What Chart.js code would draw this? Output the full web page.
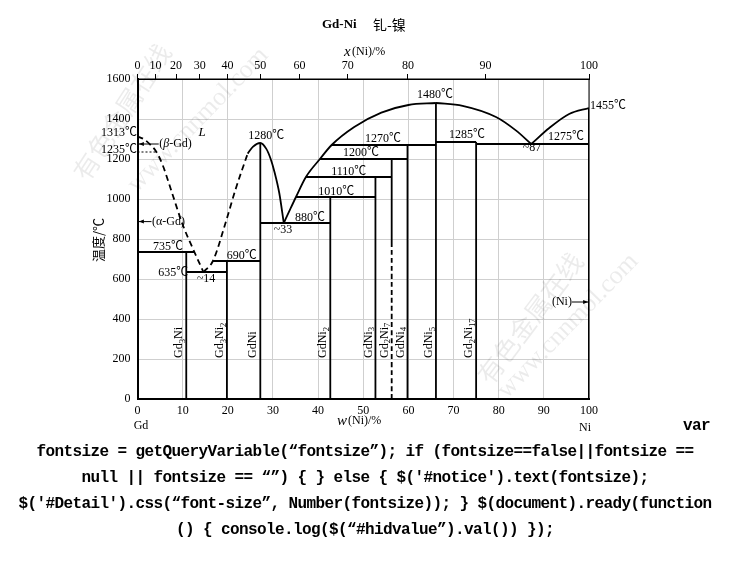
<!DOCTYPE html>
<html lang="zh">
<head>
<meta charset="UTF-8">
<title>Gd-Ni 钆-镍</title>
<script src="https://cdn.jsdelivr.net/npm/chart.js"></script>
<style>
    body { margin: 0; background: #fff; }
    #page { position: relative; width: 730px; height: 579px; overflow: hidden; }
    #chart { position: absolute; left: 0; top: 0; }
    .code { font-family: 'Liberation Mono', 'DejaVu Sans Mono', monospace; font-weight: bold; font-size: 16px; letter-spacing: -0.6px; color: #000; white-space: nowrap; }
    #varWord { position: absolute; left: 683px; top: 417px; }
    #codeText { position: absolute; left: 0; top: 439px; width: 730px; text-align: center; line-height: 26px; }
</style>
</head>
<body>
<div id="page">
    <canvas id="chart" width="730" height="440"></canvas>
    <span id="varWord" class="code">var</span>
    <div id="codeText" class="code">fontsize = getQueryVariable(“fontsize”); if (fontsize==false||fontsize ==<br>null || fontsize == “”) { } else { $('#notice').text(fontsize);<br>$('#Detail').css(“font-size”, Number(fontsize)); } $(document).ready(function<br>() { console.log($(“#hidvalue”).val()) });</div>
</div>

<script>
    // ---- data (w(Ni) in wt.%, temperature in °C) ----
    const topTickPct = [0, 10, 20, 30, 40, 50, 60, 70, 80, 90, 100];          // x(Ni) at.% labels
    const topTickWt  = [0, 3.98, 8.53, 13.79, 19.92, 27.18, 35.89, 46.55, 59.89, 77.06, 100];

    // liquidus pieces
    const liqGdFall  = [[0, 1313], [1.5, 1298], [3, 1268], [4.2, 1235], [5.6, 1168], [7.8, 1020], [10, 872], [12.6, 735], [14.6, 635]];
    const liqGdRise  = [[14.6, 635], [16.7, 690], [19.6, 888], [21.8, 1054], [24.4, 1227]];
    const liqGdNi    = [[24.4, 1227], [25.6, 1262], [27.2, 1280], [28.5, 1252], [29.5, 1200], [30.4, 1130], [31.4, 1030], [32.4, 880]];
    const liqDomeL   = [[32.4, 880], [33.8, 948], [35.1, 1010], [37.3, 1110], [40.4, 1200], [43.0, 1270], [48, 1360], [54, 1432], [60, 1470], [66.1, 1480]];
    const liqDomeR   = [[66.1, 1480], [72, 1466], [79.4, 1410], [83.8, 1343], [87.2, 1275]];
    const liqNi      = [[87.2, 1275], [91.2, 1355], [95.6, 1425], [100, 1455]];

    // invariant lines: temperature, from, to
    const isoT    = [735, 635, 690, 880, 1010, 1110, 1200, 1270, 1285, 1275];
    const isoFrom = [0, 10.8, 16.7, 27.2, 35.1, 37.3, 40.4, 43.0, 66.1, 75.0];
    const isoTo   = [12.6, 19.8, 27.2, 42.7, 52.7, 56.3, 59.8, 66.1, 75.0, 100];

    // compounds
    const compounds   = ['Gd_3Ni', 'Gd_3Ni_2', 'GdNi', 'GdNi_2', 'GdNi_3', 'Gd_2Ni_7', 'GdNi_4', 'GdNi_5', 'Gd_2Ni_17'];
    const compoundWt  = [10.8, 19.8, 27.2, 42.7, 52.7, 56.3, 59.8, 66.1, 75.0];
    const compoundTop = [735, 690, 1280, 1010, 1110, 1200, 1270, 1480, 1285];
    const gd2ni7SolidTo = 780;   // below this Gd2Ni7 is dashed

    const betaGdT = 1235;        // dotted beta/alpha Gd line
    const niMeltT = 1455;

    const SERIF = "'Liberation Serif', 'Noto Sans CJK SC', serif";
    const CJK = "'Noto Sans CJK SC', sans-serif";

    // ---- build datasets ----
    const datasets = [];
    function addLine(points, dash, width) {
        datasets.push({
            data: points.map(p => ({ x: p[0], y: p[1] })),
            showLine: true,
            borderColor: '#000',
            borderWidth: width || 1.8,
            borderDash: dash || [],
            pointRadius: 0,
            fill: false,
            cubicInterpolationMode: 'monotone'
        });
    }

    addLine(liqGdFall, [6, 4]);
    addLine(liqGdRise, [6, 4]);
    addLine(liqGdNi);
    addLine(liqDomeL);
    addLine(liqDomeR);
    addLine(liqNi);

    isoT.forEach((t, i) => addLine([[isoFrom[i], t], [isoTo[i], t]]));

    compounds.forEach((name, i) => {
        if (name === 'Gd_2Ni_7') {
            addLine([[compoundWt[i], gd2ni7SolidTo], [compoundWt[i], compoundTop[i]]]);
            addLine([[compoundWt[i], 0], [compoundWt[i], gd2ni7SolidTo]], [5, 3]);
        } else {
            addLine([[compoundWt[i], 0], [compoundWt[i], compoundTop[i]]]);
        }
    });

    addLine([[0, betaGdT], [4.2, betaGdT]], [2, 2], 1.2);
    addLine([[100, 0], [100, niMeltT]], [], 2);

    // ---- helpers for text ----
    function drawRich(ctx, str, x, y, size, align) {
        // "Gd_3Ni_2" -> subscripts
        const parts = [];
        str.split(/(_\d+)/).forEach(s => { if (s) parts.push(s[0] === '_' ? [s.slice(1), true] : [s, false]); });
        let w = 0;
        parts.forEach(p => { ctx.font = (p[1] ? size * 0.72 : size) + 'px ' + SERIF; w += ctx.measureText(p[0]).width; });
        let cx = align === 'center' ? x - w / 2 : x;
        ctx.textAlign = 'left';
        parts.forEach(p => {
            ctx.font = (p[1] ? size * 0.72 : size) + 'px ' + SERIF;
            ctx.fillText(p[0], cx, y + (p[1] ? size * 0.28 : 0));
            cx += ctx.measureText(p[0]).width;
        });
    }

    function arrow(ctx, x1, x2, y) {
        ctx.beginPath();
        ctx.moveTo(x1, y); ctx.lineTo(x2, y);
        ctx.lineWidth = 1; ctx.strokeStyle = '#000'; ctx.stroke();
        const d = x2 > x1 ? 1 : -1;
        ctx.beginPath();
        ctx.moveTo(x2, y); ctx.lineTo(x2 - d * 5, y - 2); ctx.lineTo(x2 - d * 5, y + 2);
        ctx.closePath(); ctx.fillStyle = '#000'; ctx.fill();
    }

    const watermark = {
        id: 'watermark',
        beforeDatasetsDraw(chart) {
            const ctx = chart.ctx;
            ctx.save();
            ctx.fillStyle = 'rgba(0,0,0,0.08)';
            ctx.textAlign = 'center';
            ctx.textBaseline = 'middle';
            [[122, 112, -57, '有色金属在线', CJK], [198, 120, -46, 'www.cnnmol.com', "'Liberation Serif', serif"],
             [530, 318, -53, '有色金属在线', CJK], [568, 326, -46, 'www.cnnmol.com', "'Liberation Serif', serif"]]
                .forEach(w => {
                    ctx.save();
                    ctx.translate(w[0], w[1]);
                    ctx.rotate(w[2] * Math.PI / 180);
                    ctx.font = '26px ' + w[4];
                    ctx.fillText(w[3], 0, 0);
                    ctx.restore();
                });
            ctx.restore();
        }
    };

    const annotate = {
        id: 'annotate',
        afterDraw(chart) {
            const ctx = chart.ctx;
            const sx = v => chart.scales.x.getPixelForValue(v);
            const sy = v => chart.scales.y.getPixelForValue(v);
            const area = chart.chartArea;
            ctx.save();

            // frame on top / right
            ctx.strokeStyle = '#000'; ctx.lineWidth = 1;
            ctx.beginPath();
            ctx.moveTo(area.left, area.top); ctx.lineTo(area.right, area.top); ctx.lineTo(area.right, area.bottom);
            ctx.stroke();

            ctx.fillStyle = '#000';
            ctx.textBaseline = 'middle';

            // title
            ctx.font = 'bold 13px ' + SERIF; ctx.textAlign = 'left';
            ctx.fillText('Gd-Ni', 322, 25);
            ctx.font = '14px ' + CJK;
            ctx.fillText('钆-镍', 373, 25);

            // top axis title
            ctx.font = 'italic 15px ' + SERIF;
            ctx.fillText('x', 344, 52);
            ctx.font = '12px ' + SERIF;
            ctx.fillText('(Ni)/%', 352, 52);

            // bottom labels
            ctx.textAlign = 'center';
            ctx.fillText('Gd', 141, 426);
            ctx.fillText('Ni', 585, 428);
            ctx.font = 'italic 15px ' + SERIF; ctx.textAlign = 'left';
            ctx.fillText('w', 337, 421);
            ctx.font = '12px ' + SERIF;
            ctx.fillText('(Ni)/%', 348, 421);

            // y axis title
            ctx.save();
            ctx.translate(98, 240); ctx.rotate(-Math.PI / 2);
            ctx.textAlign = 'center'; ctx.font = '13px ' + CJK;
            ctx.fillText('温度/℃', 0, 0);
            ctx.restore();

            // temperature labels
            ctx.font = '12px ' + SERIF;
            ctx.textAlign = 'right';
            ctx.fillText('1313℃', 137, sy(1330));
            ctx.fillText('1235℃', 137, sy(1245));
            ctx.textAlign = 'center';
            [['735℃', 6.75, 761], ['635℃', 7.9, 630], ['~14', 15.2, 600], ['690℃', 23.1, 715],
             ['1280℃', 28.5, 1315], ['880℃', 38.2, 906], ['~33', 32.2, 845], ['1010℃', 44.0, 1036],
             ['1110℃', 46.8, 1136], ['1200℃', 49.5, 1230], ['1270℃', 54.4, 1303], ['1480℃', 65.9, 1520],
             ['1285℃', 73.0, 1320], ['1275℃', 94.9, 1311], ['~87', 87.4, 1255]]
                .forEach(l => ctx.fillText(l[0], sx(l[1]), sy(l[2])));
            ctx.textAlign = 'left';
            ctx.fillText('1455℃', sx(100) + 1, sy(1466));

            // L
            ctx.font = 'italic 13px ' + SERIF; ctx.textAlign = 'center';
            ctx.fillText('L', sx(14.3), sy(1331));

            // phase arrows
            ctx.font = '12px ' + SERIF; ctx.textAlign = 'left';
            ctx.fillText('(', sx(4.8), sy(1275));
            let w0 = ctx.measureText('(').width;
            ctx.font = 'italic 12px ' + SERIF;
            ctx.fillText('β', sx(4.8) + w0, sy(1275));
            let w1 = ctx.measureText('β').width;
            ctx.font = '12px ' + SERIF;
            ctx.fillText('-Gd)', sx(4.8) + w0 + w1, sy(1275));
            arrow(ctx, sx(4.7), sx(0.3), sy(1275));

            ctx.fillText('(α-Gd)', sx(3.2), sy(887));
            arrow(ctx, sx(3.1), sx(0.3), sy(887));

            ctx.textAlign = 'center';
            ctx.fillText('(Ni)', sx(94.0), sy(485));
            arrow(ctx, sx(96.2), sx(99.8), sy(485));

            // compound names, rotated
            compounds.forEach((name, i) => {
                ctx.save();
                ctx.translate(sx(compoundWt[i]) - 7, sy(205));
                ctx.rotate(-Math.PI / 2);
                ctx.textBaseline = 'middle';
                drawRich(ctx, name, 0, 0, 12, 'left');
                ctx.restore();
            });

            ctx.restore();
        }
    };

    new Chart(document.getElementById('chart'), {
        type: 'scatter',
        data: { datasets: datasets },
        options: {
            responsive: false,
            animation: false,
            events: [],
            layout: { padding: { left: 90, right: 141, top: 0, bottom: 0 } },
            plugins: { legend: { display: false }, title: { display: false }, tooltip: { enabled: false } },
            scales: {
                x: {
                    type: 'linear', position: 'bottom', min: 0, max: 100,
                    afterFit: s => { s.height = 41; },
                    ticks: { stepSize: 10, color: '#000', padding: 5, maxRotation: 0, font: { family: SERIF, size: 12 }, callback: v => String(v) },
                    grid: { color: '#cfcfcf', drawTicks: false },
                    border: { color: '#000', width: 2 }
                },
                x2: {
                    type: 'linear', position: 'top', min: 0, max: 100,
                    afterFit: s => { s.height = 79; },
                    afterBuildTicks: s => { s.ticks = topTickWt.map(v => ({ value: v })); },
                    ticks: {
                        autoSkip: false, maxRotation: 0, color: '#000', padding: 1,
                        font: { family: SERIF, size: 12 },
                        callback: (v, i) => String(topTickPct[i])
                    },
                    grid: { drawOnChartArea: false, color: '#000', tickLength: 5 },
                    border: { color: '#000', width: 1 }
                },
                y: {
                    type: 'linear', min: 0, max: 1600,
                    afterFit: s => { s.width = 47.5; },
                    ticks: { stepSize: 200, color: '#000', padding: 7, font: { family: SERIF, size: 12 }, callback: v => String(v) },
                    grid: { color: '#cfcfcf', drawTicks: false },
                    border: { color: '#000', width: 2 }
                }
            }
        },
        plugins: [watermark, annotate]
    });
</script>
</body>
</html>
